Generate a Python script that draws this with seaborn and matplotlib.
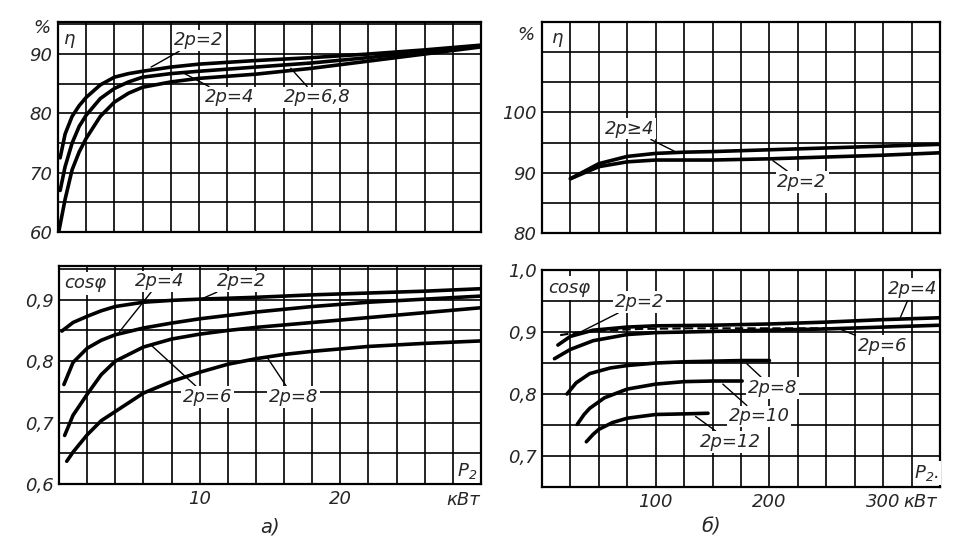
import numpy as np
import matplotlib
matplotlib.use("Agg")
import matplotlib.pyplot as plt
import matplotlib.transforms as mtransforms
import seaborn as sns

sns.set_style("white")
plt.rcParams['font.family'] = ['DejaVu Sans']
plt.rcParams['font.style'] = 'italic'

# ---------------- data ----------------
# (a) efficiency, P2 in kW
eta_a_2p2_x = [0.15, 0.5, 1, 1.5, 2, 3, 4, 5, 6, 8, 10, 14, 18, 22, 26, 30]
eta_a_2p2_y = [72.5, 76.5, 79.5, 81.3, 82.7, 84.8, 86.1, 86.7, 87.1, 87.8, 88.3, 88.9, 89.4, 90.0, 90.7, 91.5]
eta_a_2p4_x = [0.15, 0.5, 1, 1.5, 2, 3, 4, 5, 6, 8, 10, 14, 18, 22, 26, 30]
eta_a_2p4_y = [67.0, 71.0, 75.0, 77.8, 79.7, 82.5, 84.2, 85.3, 86.1, 86.7, 87.1, 87.8, 88.5, 89.4, 90.4, 91.4]
eta_a_2p68_x = [0.05, 0.5, 1, 1.5, 2, 3, 4, 5, 6, 8, 10, 14, 18, 22, 26, 30]
eta_a_2p68_y = [60.0, 65.5, 70.5, 73.5, 75.8, 79.5, 81.9, 83.4, 84.4, 85.3, 85.9, 86.6, 87.6, 88.8, 90.0, 91.2]

# (a) power factor
cos_a_2p2_x = [0.2, 1, 2, 3, 4, 6, 8, 10, 14, 18, 22, 26, 30]
cos_a_2p2_y = [0.849, 0.863, 0.873, 0.882, 0.889, 0.896, 0.899, 0.901, 0.904, 0.908, 0.911, 0.914, 0.918]
cos_a_2p4_x = [0.35, 1, 2, 3, 4, 6, 8, 10, 14, 18, 22, 26, 30]
cos_a_2p4_y = [0.762, 0.798, 0.821, 0.834, 0.843, 0.854, 0.862, 0.869, 0.880, 0.889, 0.896, 0.901, 0.906]
cos_a_2p6_x = [0.4, 1, 2, 3, 4, 6, 8, 10, 12, 14, 18, 22, 26, 30]
cos_a_2p6_y = [0.679, 0.712, 0.746, 0.778, 0.800, 0.823, 0.836, 0.844, 0.850, 0.855, 0.863, 0.871, 0.879, 0.887]
cos_a_2p8_x = [0.55, 1, 2, 3, 4, 6, 8, 10, 12, 14, 16, 18, 22, 26, 30]
cos_a_2p8_y = [0.637, 0.652, 0.680, 0.703, 0.718, 0.748, 0.767, 0.782, 0.795, 0.804, 0.811, 0.816, 0.824, 0.829, 0.833]

# (b) efficiency
eta_b_x = [25, 50, 75, 100, 125, 150, 200, 250, 300, 350]
eta_b_2p4_y = [89.0, 91.5, 92.7, 93.2, 93.4, 93.5, 93.8, 94.1, 94.4, 94.7]
eta_b_2p2_y = [89.0, 91.0, 91.8, 92.1, 92.1, 92.1, 92.3, 92.6, 92.9, 93.3]

# (b) power factor
cos_b_2p2_x = [16, 30, 50, 86, 130, 180, 230, 260]
cos_b_2p2_y = [0.895, 0.899, 0.902, 0.905, 0.906, 0.906, 0.906, 0.906]
cos_b_2p4_x = [14, 25, 45, 75, 100, 150, 200, 250, 300, 350]
cos_b_2p4_y = [0.879, 0.893, 0.903, 0.908, 0.910, 0.911, 0.913, 0.916, 0.920, 0.923]
cos_b_2p6_x = [11, 25, 45, 75, 100, 150, 200, 250, 300, 350]
cos_b_2p6_y = [0.857, 0.872, 0.886, 0.896, 0.899, 0.901, 0.903, 0.905, 0.908, 0.911]
cos_b_2p8_x = [22, 30, 42, 60, 75, 100, 125, 150, 175, 200]
cos_b_2p8_y = [0.800, 0.818, 0.833, 0.842, 0.846, 0.850, 0.852, 0.853, 0.854, 0.854]
cos_b_2p10_x = [31, 37, 42, 55, 75, 100, 125, 150, 176]
cos_b_2p10_y = [0.751, 0.767, 0.777, 0.794, 0.808, 0.816, 0.820, 0.821, 0.821]
cos_b_2p12_x = [39, 45, 50, 62, 75, 100, 125, 146]
cos_b_2p12_y = [0.723, 0.735, 0.743, 0.754, 0.761, 0.767, 0.768, 0.769]

eta_a_ticklabels = ['60', '', '70', '', '80', '', '90', '']
cos_a_ticklabels = ['0,6', '', '0,7', '', '0,8', '', '0,9', '']
eta_b_ticklabels = ['80', '', '90', '', '100', '', '', '']
cos_b_ticklabels = ['', '0,7', '', '0,8', '', '0,9', '', '1,0']

FS = 13
LW = 2.6

fig = plt.figure(figsize=(9.72, 5.53), dpi=100)
ax1 = fig.add_axes([0.0597, 0.5805, 0.4352, 0.3797])
ax2 = fig.add_axes([0.0607, 0.1248, 0.4342, 0.3942])
ax3 = fig.add_axes([0.5576, 0.5787, 0.4095, 0.3816])
ax4 = fig.add_axes([0.5576, 0.1193, 0.4095, 0.3924])


def style(ax, xlim, xstep, ylim, yticks, ylabels):
    ax.set_xlim(*xlim)
    ax.set_ylim(*ylim)
    ax.set_xticks(np.arange(xlim[0], xlim[1] + 1e-9, xstep))
    ax.set_yticks(yticks)
    ax.set_yticklabels(ylabels, fontsize=FS, fontstyle='italic')
    ax.grid(True, color='black', lw=1.2)
    ax.set_axisbelow(True)
    ax.tick_params(length=0, pad=4)
    for s in ax.spines.values():
        s.set_color('black')
        s.set_linewidth(1.6)
        s.set_visible(True)
    ax.set_xlabel('')
    ax.set_ylabel('')


def curve(ax, x, y, **kw):
    sns.lineplot(x=x, y=y, ax=ax, color='black', lw=kw.pop('lw', LW), sort=False,
                 estimator=None, **kw)


def label(ax, text, xy, xytext, ha='left'):
    ax.annotate(text, xy=xy, xytext=xytext, fontsize=FS, fontstyle='italic',
                ha=ha, va='center',
                bbox=dict(boxstyle='square,pad=0.1', fc='white', ec='none'),
                arrowprops=dict(arrowstyle='-', color='black', lw=1.0,
                                shrinkA=0, shrinkB=0))


# ---- (a) efficiency ----
curve(ax1, eta_a_2p2_x, eta_a_2p2_y)
curve(ax1, eta_a_2p4_x, eta_a_2p4_y)
curve(ax1, eta_a_2p68_x, eta_a_2p68_y)
style(ax1, (0, 30), 2, (60, 95.4), np.arange(60, 96, 5), eta_a_ticklabels)
ax1.set_xticklabels([])
label(ax1, '2p=2', (6.6, 87.8), (8.2, 92.3))
label(ax1, '2p=4', (8.9, 86.8), (10.4, 82.7))
label(ax1, '2p=6,8', (16.5, 87.6), (16.0, 82.7))
ax1.text(0.014, 0.92, 'η', transform=ax1.transAxes, fontsize=FS, ha='left', va='center')
ax1.text(-0.038, 0.97, '%', transform=ax1.transAxes, fontsize=FS, ha='center', va='center')

# ---- (a) power factor ----
curve(ax2, cos_a_2p2_x, cos_a_2p2_y)
curve(ax2, cos_a_2p4_x, cos_a_2p4_y)
curve(ax2, cos_a_2p6_x, cos_a_2p6_y)
curve(ax2, cos_a_2p8_x, cos_a_2p8_y)
style(ax2, (0, 30), 2, (0.6, 0.955), np.arange(0.6, 0.951, 0.05), cos_a_ticklabels)
ax2.set_xticklabels(['' if v not in (10, 20) else str(v) for v in range(0, 31, 2)],
                    fontsize=FS, fontstyle='italic')
label(ax2, '2p=4', (4.3, 0.848), (5.4, 0.93))
label(ax2, '2p=2', (10.0, 0.9), (11.2, 0.93))
label(ax2, '2p=6', (6.6, 0.825), (8.8, 0.742))
label(ax2, '2p=8', (14.8, 0.806), (14.9, 0.742))
ax2.text(0.012, 0.92, 'cosφ', transform=ax2.transAxes, fontsize=FS, ha='left', va='center',
         bbox=dict(boxstyle='square,pad=0.15', fc='white', ec='none'))
ax2.text(0.967, 0.06, 'P$_2$', transform=ax2.transAxes, fontsize=FS, ha='center', va='center',
         bbox=dict(boxstyle='square,pad=0.1', fc='white', ec='none'))
tr2 = mtransforms.blended_transform_factory(ax2.transData, ax2.transAxes)
ax2.text(28.7, -0.075, 'кВт', transform=tr2, fontsize=FS, ha='center', va='center')

# ---- (b) efficiency ----
curve(ax3, eta_b_x, eta_b_2p4_y)
curve(ax3, eta_b_x, eta_b_2p2_y)
style(ax3, (0, 350), 25, (80, 115), np.arange(80, 116, 5), eta_b_ticklabels)
ax3.set_xticklabels([])
label(ax3, '2p≥4', (117, 93.5), (55, 97.3))
label(ax3, '2p=2', (203, 92.0), (207, 88.5))
ax3.text(0.025, 0.925, 'η', transform=ax3.transAxes, fontsize=FS, ha='left', va='center')
ax3.text(-0.04, 0.94, '%', transform=ax3.transAxes, fontsize=FS, ha='center', va='center')

# ---- (b) power factor ----
curve(ax4, cos_b_2p2_x, cos_b_2p2_y, lw=1.5, linestyle=(0, (4, 2)))
curve(ax4, cos_b_2p4_x, cos_b_2p4_y)
curve(ax4, cos_b_2p6_x, cos_b_2p6_y)
curve(ax4, cos_b_2p8_x, cos_b_2p8_y)
curve(ax4, cos_b_2p10_x, cos_b_2p10_y)
curve(ax4, cos_b_2p12_x, cos_b_2p12_y)
style(ax4, (0, 350), 25, (0.65, 1.0), np.arange(0.65, 1.001, 0.05), cos_b_ticklabels)
ax4.set_xticklabels(['' if v not in (100, 200, 300) else str(v) for v in range(0, 351, 25)],
                    fontsize=FS, fontstyle='italic')
label(ax4, '2p=2', (31.7, 0.898), (64, 0.948))
label(ax4, '2p=4', (315, 0.923), (304, 0.969))
label(ax4, '2p=6', (259, 0.907), (278, 0.877))
label(ax4, '2p=8', (180, 0.849), (181, 0.81))
label(ax4, '2p=10', (159, 0.816), (164, 0.764))
label(ax4, '2p=12', (135, 0.764), (139, 0.723))
ax4.text(0.015, 0.917, 'cosφ', transform=ax4.transAxes, fontsize=FS, ha='left', va='center',
         bbox=dict(boxstyle='square,pad=0.15', fc='white', ec='none'))
ax4.text(0.967, 0.065, 'P$_2$.', transform=ax4.transAxes, fontsize=FS, ha='center', va='center',
         bbox=dict(boxstyle='square,pad=0.1', fc='white', ec='none'))
tr4 = mtransforms.blended_transform_factory(ax4.transData, ax4.transAxes)
ax4.text(332.5, -0.07, 'кВт', transform=tr4, fontsize=FS, ha='center', va='center')

fig.text(270 / 972, 1 - 527 / 553, 'а)', fontsize=FS + 1, ha='center', va='center')
fig.text(711 / 972, 1 - 527 / 553, 'б)', fontsize=FS + 1, ha='center', va='center')

fig.savefig('out.png', dpi=100, facecolor='white')
